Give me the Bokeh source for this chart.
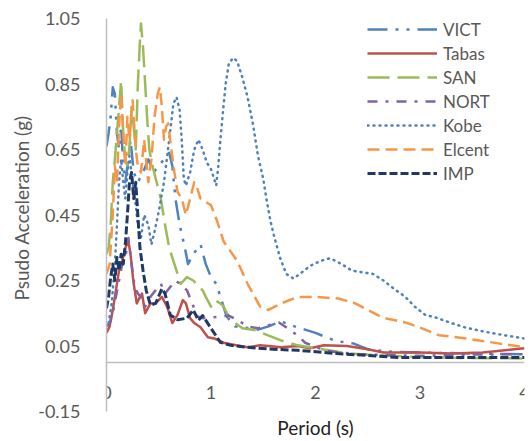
from bokeh.plotting import figure
from bokeh.models import (LinearAxis, FixedTicker, PrintfTickFormatter, Legend,
                          LegendItem, Title, Range1d)
from bokeh.embed import file_html
from bokeh.resources import INLINE

# ---------------- data (period s, pseudo acceleration g) ----------------
vict_t = [0.0, 0.02, 0.04, 0.06, 0.08, 0.1, 0.12, 0.14, 0.16, 0.18, 0.2, 0.23, 0.26, 0.3,
          0.35, 0.4, 0.45, 0.5, 0.55, 0.6, 0.63, 0.66, 0.7, 0.75, 0.78, 0.83, 0.9, 0.95,
          1.0, 1.05, 1.1, 1.15, 1.23, 1.35, 1.45, 1.55, 1.67, 1.8, 1.9, 2.0, 2.1, 2.2,
          2.36, 2.5, 2.7, 3.0, 3.5, 4.0]
vict_a = [0.66, 0.7, 0.75, 0.84, 0.82, 0.7, 0.65, 0.72, 0.6, 0.55, 0.6, 0.68, 0.58, 0.55,
          0.58, 0.62, 0.58, 0.6, 0.62, 0.64, 0.6, 0.5, 0.42, 0.35, 0.3, 0.33, 0.36, 0.3,
          0.26, 0.24, 0.19, 0.14, 0.11, 0.105, 0.1, 0.11, 0.125, 0.11, 0.1, 0.09, 0.077,
          0.065, 0.058, 0.04, 0.033, 0.03, 0.027, 0.025]

tabas_t = [0.0, 0.03, 0.06, 0.09, 0.12, 0.15, 0.18, 0.21, 0.23, 0.26, 0.29, 0.32, 0.34,
           0.37, 0.42, 0.47, 0.53, 0.58, 0.63, 0.68, 0.73, 0.76, 0.8, 0.84, 0.9, 0.97,
           1.03, 1.12, 1.24, 1.35, 1.47, 1.55, 1.67, 1.83, 1.95, 2.08, 2.3, 2.5, 2.65,
           3.0, 3.3, 3.6, 3.9, 4.0]
tabas_a = [0.09, 0.11, 0.16, 0.22, 0.28, 0.31, 0.35, 0.37, 0.33, 0.24, 0.18, 0.2, 0.21,
           0.15, 0.18, 0.18, 0.2, 0.17, 0.12, 0.145, 0.19, 0.18, 0.135, 0.12, 0.107, 0.077,
           0.073, 0.06, 0.052, 0.046, 0.052, 0.05, 0.046, 0.05, 0.043, 0.052, 0.05, 0.04,
           0.03, 0.03, 0.027, 0.03, 0.04, 0.043]

san_t = [0.0, 0.02, 0.04, 0.06, 0.08, 0.1, 0.12, 0.14, 0.16, 0.18, 0.2, 0.22, 0.24, 0.26,
         0.28, 0.3, 0.32, 0.33, 0.35, 0.37, 0.39, 0.41, 0.44, 0.48, 0.52, 0.56, 0.6, 0.65,
         0.71, 0.77, 0.83, 0.92, 0.95, 1.0, 1.04, 1.11, 1.19, 1.3, 1.43, 1.54, 1.67, 1.83,
         2.0, 2.32, 2.7, 3.12, 3.5, 4.0]
san_a = [0.33, 0.35, 0.42, 0.55, 0.62, 0.7, 0.78, 0.86, 0.7, 0.62, 0.6, 0.66, 0.78, 0.72,
         0.65, 0.85, 0.98, 1.035, 0.96, 0.85, 0.74, 0.65, 0.6, 0.55, 0.5, 0.42, 0.35, 0.3,
         0.24, 0.26, 0.25, 0.22, 0.2, 0.17, 0.19, 0.175, 0.13, 0.104, 0.098, 0.083, 0.067,
         0.052, 0.043, 0.027, 0.02, 0.015, 0.013, 0.012]

nort_t = [0.0, 0.03, 0.06, 0.09, 0.12, 0.15, 0.18, 0.21, 0.24, 0.27, 0.3, 0.33, 0.37, 0.42,
          0.47, 0.52, 0.56, 0.61, 0.66, 0.72, 0.77, 0.82, 0.87, 0.92, 1.0, 1.1, 1.17, 1.25,
          1.35, 1.45, 1.57, 1.65, 1.75, 1.83, 1.9, 2.1, 2.4, 3.0, 3.5, 4.0]
nort_a = [0.11, 0.12, 0.15, 0.2, 0.25, 0.3, 0.32, 0.38, 0.3, 0.23, 0.21, 0.2, 0.17, 0.2,
          0.22, 0.24, 0.21, 0.23, 0.25, 0.235, 0.22, 0.18, 0.14, 0.135, 0.137, 0.14, 0.143,
          0.13, 0.11, 0.104, 0.115, 0.122, 0.1, 0.082, 0.06, 0.035, 0.025, 0.02, 0.024,
          0.025]

kobe_t = [0.02, 0.05, 0.08, 0.1, 0.12, 0.14, 0.16, 0.18, 0.2, 0.22, 0.25, 0.28, 0.3, 0.33,
          0.36, 0.4, 0.43, 0.46, 0.5, 0.55, 0.6, 0.64, 0.67, 0.7, 0.72, 0.74, 0.76, 0.8,
          0.84, 0.88, 0.92, 0.96, 1.0, 1.03, 1.05, 1.07, 1.09, 1.11, 1.14, 1.17, 1.21, 1.25,
          1.3, 1.35, 1.4, 1.45, 1.5, 1.53, 1.57, 1.6, 1.66, 1.72, 1.79, 1.85, 1.95, 2.05,
          2.14, 2.25, 2.35, 2.45, 2.55, 2.65, 2.75, 2.86, 2.95, 3.05, 3.15, 3.3, 3.43, 3.6,
          3.8, 4.0]
kobe_a = [0.12, 0.18, 0.3, 0.42, 0.55, 0.62, 0.55, 0.5, 0.58, 0.63, 0.55, 0.48, 0.42, 0.38,
          0.45, 0.42, 0.36, 0.4, 0.46, 0.55, 0.68, 0.79, 0.81, 0.77, 0.68, 0.56, 0.54, 0.58,
          0.65, 0.68, 0.65, 0.61, 0.59, 0.56, 0.54, 0.6, 0.68, 0.75, 0.85, 0.91, 0.93, 0.92,
          0.87, 0.81, 0.73, 0.63, 0.56, 0.5, 0.43, 0.39, 0.32, 0.27, 0.256, 0.27, 0.295,
          0.31, 0.318, 0.3, 0.28, 0.275, 0.27, 0.25, 0.225, 0.2, 0.17, 0.145, 0.137, 0.12,
          0.107, 0.095, 0.083, 0.073]

elcent_t = [0.0, 0.03, 0.06, 0.08, 0.1, 0.12, 0.14, 0.16, 0.18, 0.2, 0.22, 0.25, 0.28, 0.3,
            0.33, 0.36, 0.4, 0.43, 0.46, 0.49, 0.51, 0.53, 0.55, 0.57, 0.59, 0.62, 0.65,
            0.68, 0.72, 0.76, 0.8, 0.84, 0.87, 0.9, 1.0, 1.06, 1.12, 1.25, 1.35, 1.47, 1.55,
            1.67, 1.83, 2.0, 2.22, 2.38, 2.5, 2.64, 2.86, 3.02, 3.18, 3.44, 3.75, 4.0]
elcent_a = [0.27, 0.3, 0.45, 0.6, 0.55, 0.72, 0.82, 0.7, 0.6, 0.75, 0.68, 0.8, 0.65, 0.6,
            0.58, 0.68, 0.55, 0.62, 0.75, 0.82, 0.84, 0.78, 0.68, 0.72, 0.73, 0.65, 0.58,
            0.52, 0.5, 0.45, 0.5, 0.55, 0.53, 0.5, 0.48, 0.43, 0.37, 0.31, 0.24, 0.17, 0.16,
            0.18, 0.2, 0.2, 0.195, 0.18, 0.16, 0.137, 0.122, 0.104, 0.083, 0.073, 0.058,
            0.046]

imp_t = [0.0, 0.02, 0.04, 0.06, 0.08, 0.1, 0.12, 0.14, 0.16, 0.18, 0.2, 0.22, 0.24, 0.26,
         0.28, 0.3, 0.32, 0.35, 0.38, 0.42, 0.47, 0.53, 0.56, 0.61, 0.68, 0.77, 0.83, 0.88,
         0.92, 1.0, 1.09, 1.19, 1.35, 1.6, 1.83, 2.2, 2.8, 3.4, 4.0]
imp_a = [0.165, 0.2, 0.26, 0.3, 0.25, 0.32, 0.28, 0.33, 0.3, 0.36, 0.45, 0.55, 0.58, 0.5,
         0.55, 0.45, 0.35, 0.28, 0.22, 0.175, 0.18, 0.225, 0.21, 0.145, 0.13, 0.135, 0.16,
         0.128, 0.143, 0.104, 0.061, 0.052, 0.046, 0.04, 0.037, 0.027, 0.015, 0.015, 0.015]

series_names = ["VICT", "Tabas", "SAN", "NORT", "Kobe", "Elcent", "IMP"]
x_ticks = [0, 1, 2, 3, 4]
y_ticks = [-0.15, 0.05, 0.25, 0.45, 0.65, 0.85, 1.05]

# ---------------- styles ----------------
styles = {
    "VICT":   dict(color="#4F81BD", width=2.5, dash="20 8 3 8 3 8", cap="butt"),
    "Tabas":  dict(color="#C0504D", width=2.5, dash="solid", cap="butt"),
    "SAN":    dict(color="#9BBB59", width=2.5, dash="22 8", cap="butt"),
    "NORT":   dict(color="#8064A2", width=2.5, dash="10 8 3 8", cap="butt"),
    "Kobe":   dict(color="#4F81BD", width=2.5, dash="1 5", cap="round"),
    "Elcent": dict(color="#F79646", width=2.5, dash="12 6", cap="butt"),
    "IMP":    dict(color="#1F3864", width=3, dash="8 3", cap="butt"),
}
data = {
    "VICT": (vict_t, vict_a), "Tabas": (tabas_t, tabas_a), "SAN": (san_t, san_a),
    "NORT": (nort_t, nort_a), "Kobe": (kobe_t, kobe_a), "Elcent": (elcent_t, elcent_a),
    "IMP": (imp_t, imp_a),
}

FONT = "Lato"
GRAY = "#595959"

p = figure(width=530, height=441, x_range=Range1d(0, 4), y_range=Range1d(-0.15, 1.05),
           output_backend="svg", toolbar_location=None,
           x_axis_location=None, y_axis_location=None,
           min_border_left=106, min_border_right=6, min_border_top=18,
           min_border_bottom=30)
p.outline_line_color = None
p.grid.visible = False
p.background_fill_color = "white"
p.border_fill_color = "white"

# y axis
yaxis = LinearAxis(ticker=FixedTicker(ticks=y_ticks),
                   formatter=PrintfTickFormatter(format="%.2f"),
                   major_tick_line_color=None, minor_tick_line_color=None,
                   axis_line_color="#BFBFBF", axis_line_width=1.5,
                   major_label_standoff=20,
                   major_label_text_font=FONT, major_label_text_font_size="18px",
                   major_label_text_color=GRAY)
p.add_layout(yaxis, "left")

# x axis drawn through y = 0
xaxis = LinearAxis(ticker=FixedTicker(ticks=x_ticks), fixed_location=0,
                   major_tick_line_color=None, minor_tick_line_color=None,
                   axis_line_color="#BFBFBF", axis_line_width=1.5,
                   major_label_standoff=18,
                   major_label_text_font=FONT, major_label_text_font_size="18px",
                   major_label_text_color=GRAY)
p.add_layout(xaxis, "below")

p.add_layout(Title(text="Period (s)", align="center", text_font=FONT,
                   text_font_size="19px", text_font_style="normal",
                   text_color="#222222", standoff=4), "below")
p.add_layout(Title(text="Psudo Acceleration (g)", align="left", offset=111,
                   text_font=FONT, text_font_size="19px", text_font_style="normal",
                   text_color=GRAY, standoff=6), "left")

items = []
for name in series_names:
    t, a = data[name]
    st = styles[name]
    r = p.line(t, a, line_color=st["color"], line_width=st["width"],
               line_dash=st["dash"], line_cap=st["cap"], line_join="round")
    items.append(LegendItem(label=name, renderers=[r]))

legend = Legend(items=items, location=(261, 227), orientation="vertical",
                glyph_width=70, glyph_height=22, label_height=22, spacing=2,
                padding=0, margin=0, label_standoff=6,
                border_line_color=None, background_fill_alpha=0,
                label_text_font=FONT, label_text_font_size="17px",
                label_text_color=GRAY)
p.add_layout(legend)

open("out.html", "w").write(file_html(p, INLINE))
